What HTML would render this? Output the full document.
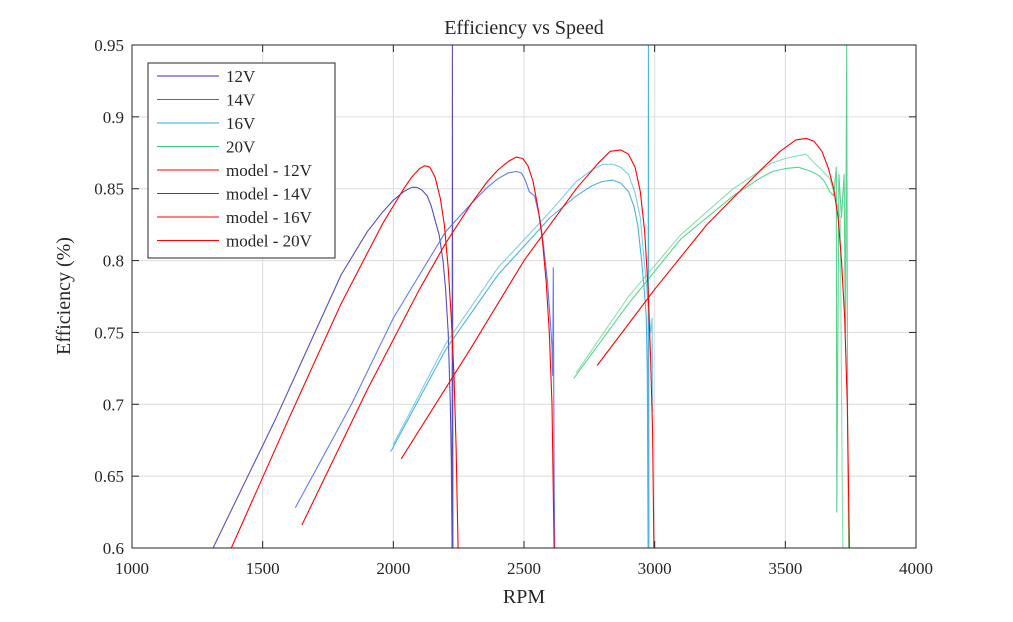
<!DOCTYPE html>
<html><head><meta charset="utf-8"><style>
body{margin:0;background:#fff;}
svg text{font-family:"Liberation Serif",serif;fill:#262626;}
</style></head><body>
<svg id="chart" width="1013" height="617" xmlns="http://www.w3.org/2000/svg">
<rect width="1013" height="617" fill="#fff"/>
<g id="grid"></g>
<g id="series"></g>
<rect x="132" y="45" width="784" height="503" fill="none" stroke="#262626" stroke-width="1"/>
<g id="ticks"></g>
<text x="524" y="34" font-size="20" text-anchor="middle">Efficiency vs Speed</text>
<text x="524" y="603" font-size="20" text-anchor="middle">RPM</text>
<text x="70" y="296" font-size="20" text-anchor="middle" transform="rotate(-90 70 296)">Efficiency (%)</text>
<g id="legend"></g>
</svg>
<script>
const xTicks=[1000,1500,2000,2500,3000,3500,4000];
const yTicks=[0.6,0.65,0.7,0.75,0.8,0.85,0.9,0.95];
const legendLabels=["12V","14V","16V","20V","model - 12V","model - 14V","model - 16V","model - 20V"];
const legendColors=["#3b2fb0","#4a62ef","#2ea6db","#3ccb7b","#ff0000","#ff0000","#ff0000","#ff0000"];

const rpm12=[1310,1550,1700,1800,1900,1960,2000,2040,2070,2090,2110,2130,2145,2160,2175,2190,2200,2210,2218,2222,2225,2226,2228];
const eff12=[0.6,0.69,0.75,0.79,0.82,0.834,0.842,0.848,0.851,0.851,0.849,0.845,0.838,0.828,0.818,0.80,0.78,0.75,0.70,0.66,0.6,0.95,0.6];
const rpm14=[1625,1840,2000,2200,2300,2360,2400,2440,2470,2490,2505,2520,2540,2560,2575,2590,2600,2607,2610,2612,2615,2618];
const eff14=[0.628,0.70,0.76,0.82,0.84,0.851,0.857,0.861,0.862,0.861,0.856,0.848,0.845,0.83,0.81,0.785,0.76,0.74,0.72,0.795,0.65,0.6];
const rpm16a=[1990,2200,2400,2600,2700,2760,2800,2840,2870,2900,2920,2935,2950,2960,2968,2972,2975,2976,2978];
const eff16a=[0.667,0.738,0.79,0.83,0.845,0.852,0.855,0.856,0.854,0.848,0.838,0.825,0.80,0.78,0.76,0.72,0.6,0.95,0.6];
const rpm16b=[2000,2200,2400,2600,2700,2760,2800,2840,2870,2900,2925,2945,2960,2975,2985,2990,2993];
const eff16b=[0.672,0.742,0.795,0.834,0.855,0.863,0.867,0.867,0.865,0.86,0.847,0.83,0.80,0.77,0.75,0.76,0.695];
const rpm20a=[2690,2900,3100,3300,3400,3450,3500,3550,3600,3630,3650,3670,3685,3695,3697,3705,3715,3725,3730,3735,3738,3742];
const eff20a=[0.718,0.77,0.815,0.845,0.857,0.862,0.864,0.865,0.862,0.859,0.855,0.848,0.845,0.865,0.625,0.86,0.83,0.86,0.75,0.95,0.7,0.6];
const rpm20b=[2700,2900,3100,3300,3400,3450,3500,3550,3580,3610,3640,3670,3690,3710,3720];
const eff20b=[0.722,0.775,0.818,0.85,0.862,0.868,0.871,0.873,0.874,0.868,0.863,0.857,0.845,0.83,0.6];
const rpmM12=[1380,1600,1800,1900,1960,2000,2040,2070,2100,2120,2140,2160,2180,2195,2210,2222,2232,2240,2248];
const effM12=[0.6,0.69,0.77,0.805,0.826,0.838,0.85,0.858,0.864,0.866,0.865,0.858,0.843,0.825,0.795,0.76,0.72,0.67,0.6];
const rpmM14=[1650,1900,2100,2200,2300,2360,2400,2440,2470,2495,2515,2535,2555,2570,2585,2597,2607,2615];
const effM14=[0.616,0.71,0.78,0.812,0.84,0.855,0.863,0.869,0.872,0.871,0.866,0.855,0.835,0.815,0.785,0.75,0.70,0.6];
const rpmM16=[2030,2300,2500,2700,2780,2830,2870,2900,2925,2945,2962,2975,2985,2992,2997];
const effM16=[0.662,0.74,0.80,0.85,0.867,0.876,0.877,0.874,0.865,0.848,0.82,0.78,0.73,0.68,0.6];
const rpmM20=[2780,3000,3200,3400,3480,3540,3580,3610,3640,3665,3685,3702,3715,3727,3737,3745];
const effM20=[0.727,0.78,0.825,0.862,0.876,0.884,0.885,0.883,0.876,0.864,0.85,0.83,0.80,0.76,0.70,0.6];

const X=v=>132+(v-1000)*784/3000;
const Y=v=>548-(v-0.6)*503/0.35;
const NS="http://www.w3.org/2000/svg";
function mk(tag,attrs,parent){const e=document.createElementNS(NS,tag);for(const k in attrs)e.setAttribute(k,attrs[k]);parent.appendChild(e);return e;}
const grid=document.getElementById('grid'),ticks=document.getElementById('ticks');
xTicks.forEach(t=>{
  const g=mk('line',{x1:X(t),x2:X(t),y1:45,y2:548,stroke:'#dcdcdc','stroke-width':1},grid);
  
  
  mk('line',{x1:X(t),x2:X(t),y1:548,y2:541,stroke:'#262626'},ticks);
  mk('line',{x1:X(t),x2:X(t),y1:45,y2:52,stroke:'#262626'},ticks);
  const tx=mk('text',{x:X(t),y:574,'font-size':17,'text-anchor':'middle'},ticks);tx.textContent=t;
  
  
});
yTicks.forEach(t=>{
  const g=mk('line',{x1:132,x2:916,y1:Y(t),y2:Y(t),stroke:'#dcdcdc','stroke-width':1},grid);
  
  
  mk('line',{x1:132,x2:139,y1:Y(t),y2:Y(t),stroke:'#262626'},ticks);
  mk('line',{x1:916,x2:909,y1:Y(t),y2:Y(t),stroke:'#262626'},ticks);
  const tx=mk('text',{x:124,y:Y(t)+6,'font-size':17,'text-anchor':'end'},ticks);tx.textContent=String(t);
  
  
});
const ser=document.getElementById('series');
function line(xs,ys,color,name,op){
  const d=xs.map((x,i)=>(i?'L':'M')+X(x).toFixed(1)+','+Math.max(45,Math.min(548,Y(ys[i]))).toFixed(1)).join(' ');
  const p=mk('path',{d:d,fill:'none',stroke:color,'stroke-width':1.1,opacity:op,'stroke-linejoin':'round'},ser);
  
  
}
line(rpm12,eff12,legendColors[0],'series-12v',0.85);
line(rpm14,eff14,legendColors[1],'series-14v',0.85);
line(rpm16a,eff16a,legendColors[2],'series-16v',0.85);
line(rpm16b,eff16b,legendColors[2],'series-16v-trace2',0.6);
line(rpm20a,eff20a,legendColors[3],'series-20v',0.85);
line(rpm20b,eff20b,legendColors[3],'series-20v-trace2',0.6);
line(rpmM12,effM12,'#ff0000','model-12v',1);
line(rpmM14,effM14,'#ff0000','model-14v',1);
line(rpmM16,effM16,'#ff0000','model-16v',1);
line(rpmM20,effM20,'#ff0000','model-20v',1);
const lg=document.getElementById('legend');
const box=mk('rect',{x:148,y:63,width:187,height:195,fill:'#fff',stroke:'#262626'},lg);


legendLabels.forEach((l,i)=>{
  const y=76+i*23.5;
  mk('line',{x1:157,x2:219,y1:y,y2:y,stroke:legendColors[i],'stroke-width':1},lg);
  const t=mk('text',{x:226,y:y+6,'font-size':17},lg);t.textContent=l;
  
  
});
</script>
</body></html>
